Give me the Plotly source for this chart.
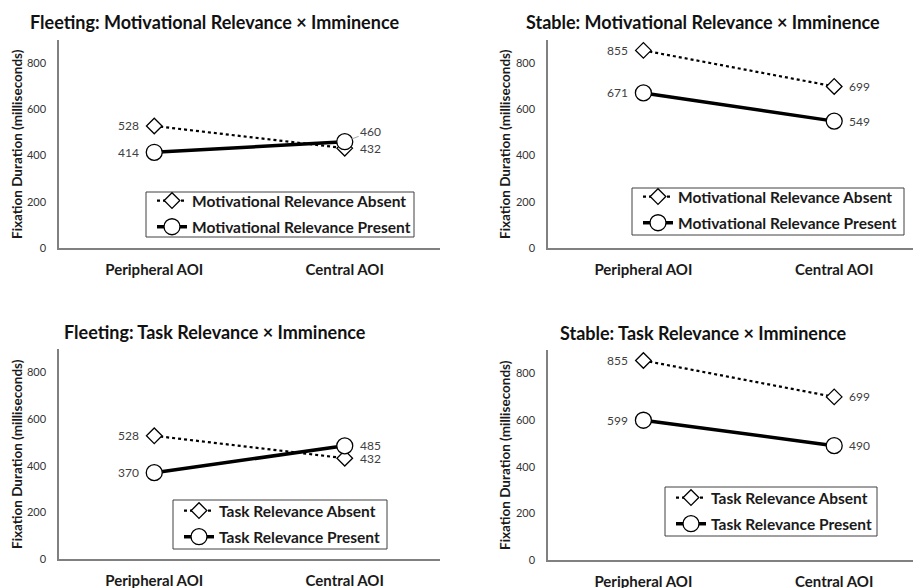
import plotly.graph_objects as go

categories = ["Peripheral AOI", "Central AOI"]

titles = [
    "Fleeting: Motivational Relevance × Imminence",
    "Stable: Motivational Relevance × Imminence",
    "Fleeting: Task Relevance × Imminence",
    "Stable: Task Relevance × Imminence",
]
absent_names = ["Motivational Relevance Absent", "Motivational Relevance Absent",
                "Task Relevance Absent", "Task Relevance Absent"]
present_names = ["Motivational Relevance Present", "Motivational Relevance Present",
                 "Task Relevance Present", "Task Relevance Present"]

fleeting_mot_absent = [528, 432]
fleeting_mot_present = [414, 460]
stable_mot_absent = [855, 699]
stable_mot_present = [671, 549]
fleeting_task_absent = [528, 432]
fleeting_task_present = [370, 485]
stable_task_absent = [855, 699]
stable_task_present = [599, 490]

absent_vals = [fleeting_mot_absent, stable_mot_absent, fleeting_task_absent, stable_task_absent]
present_vals = [fleeting_mot_present, stable_mot_present, fleeting_task_present, stable_task_present]

OFF = 8                      # page body margin
W, H = 921 - OFF, 588 - OFF  # figure size so it fills the window
FONT = "Lato"


def px(x):
    return (x - OFF) / W


def py(y):
    return 1 - (y - OFF) / H


# pixel layout (window coordinates) of each panel: (x0, x1, ytop, ybottom)
panels = [
    (59, 440, 40, 248),
    (548, 921, 40, 248),
    (59, 440, 349, 559),
    (548, 921, 350, 560),
]
xranges = [[-0.5, 1.5], [-0.5, 1.455], [-0.5, 1.5], [-0.5, 1.455]]
title_pos = [(214, 22), (703, 22), (215, 332), (703, 333)]
# legend frame boxes (x0, y0, x1, y1) and first-item centre
legend_box = [(146, 192, 414, 237), (632, 188, 904, 235),
              (173, 500, 387, 549), (665, 487, 877, 536)]
legend_first = [202, 198, 512, 499]
ytitle_x = [17, 505, 17, 505]

fig = go.Figure()

for i in range(4):
    x0, x1, yt, yb = panels[i]
    ax = "" if i == 0 else str(i + 1)
    leg = "legend" if i == 0 else f"legend{i + 1}"
    fig.add_trace(go.Scatter(
        x=categories, y=absent_vals[i], name=absent_names[i],
        mode="lines+markers", legendgroup=f"a{i}",
        line=dict(color="black", width=2.2, dash="dot"),
        marker=dict(symbol="diamond", size=12, color="white",
                    line=dict(color="black", width=1.3)),
        xaxis="x" + ax, yaxis="y" + ax, legend=leg, cliponaxis=False,
    ))
    fig.add_trace(go.Scatter(
        x=categories, y=present_vals[i], name=present_names[i],
        mode="lines+markers", legendgroup=f"p{i}",
        line=dict(color="black", width=3.5),
        marker=dict(symbol="circle", size=16, color="white",
                    line=dict(color="black", width=1.3)),
        xaxis="x" + ax, yaxis="y" + ax, legend=leg, cliponaxis=False,
    ))

    # data labels: left of peripheral points, right of central points
    for vals in (absent_vals[i], present_vals[i]):
        for j, v in enumerate(vals):
            if i == 0 and vals is present_vals[i] and j == 1:
                continue
            fig.add_annotation(
                text=str(v), x=categories[j], y=v,
                xref="x" + ax, yref="y" + ax, showarrow=False,
                xanchor="right" if j == 0 else "left", yanchor="middle",
                xshift=-13 if j == 0 else 13,
                font=dict(family=FONT, size=12, color="#404040"),
            )

    fig.layout["xaxis" + ax] = dict(
        domain=[px(x0), min(px(x1), 1.0)], range=xranges[i], anchor="y" + ax,
        automargin=False,
        showline=True, linecolor="#808080", linewidth=1.5,
        showgrid=False, zeroline=False, ticks="",
        tickfont=dict(family=FONT, size=15, color="#1a1a1a", weight="bold"),
        ticklabelstandoff=7,
    )
    fig.layout["yaxis" + ax] = dict(
        domain=[py(yb), py(yt)], range=[0, 900], anchor="x" + ax,
        automargin=False,
        tickvals=[0, 200, 400, 600, 800],
        showline=True, linecolor="#808080", linewidth=1.5,
        showgrid=False, zeroline=False, ticks="",
        tickfont=dict(family=FONT, size=11, color="#333333"),
        ticklabelstandoff=9,
    )
    bx0, by0, bx1, by1 = legend_box[i]
    fig.add_shape(
        type="rect", xref="paper", yref="paper",
        x0=px(bx0), x1=px(bx1), y0=py(by1), y1=py(by0),
        line=dict(color="#404040", width=1), fillcolor="white", layer="above",
    )
    fig.layout[leg] = dict(
        x=px(bx0 + 6), y=py(legend_first[i] - 18),
        xref="paper", yref="paper", xanchor="left", yanchor="top",
        bgcolor="rgba(0,0,0,0)", borderwidth=0,
        font=dict(family=FONT, size=15.5, color="#1a1a1a", weight="bold"),
        tracegroupgap=3, itemwidth=30,
    )
    fig.add_annotation(
        text=titles[i], x=px(title_pos[i][0]), y=py(title_pos[i][1]),
        xref="paper", yref="paper", showarrow=False,
        xanchor="center", yanchor="middle",
        font=dict(family=FONT, size=18, color="#111111", weight="bold"),
    )
    fig.add_annotation(
        text="Fixation Duration (milliseconds)",
        x=px(ytitle_x[i]), y=py((yt + yb) / 2),
        xref="paper", yref="paper", showarrow=False, textangle=-90,
        xanchor="center", yanchor="middle",
        font=dict(family=FONT, size=13.5, color="#1a1a1a", weight="bold"),
    )

# leader-lined label for the overlapping central point in panel 1
fig.add_annotation(
    text=str(fleeting_mot_present[1]), x=categories[1], y=fleeting_mot_present[1],
    xref="x", yref="y", showarrow=True, arrowhead=0, arrowcolor="#a6a6a6",
    arrowwidth=1, ax=26, ay=-10, standoff=7,
    font=dict(family=FONT, size=12, color="#404040"),
)

fig.update_layout(
    width=W, height=H, margin=dict(l=0, r=0, t=0, b=0, autoexpand=False),
    paper_bgcolor="white", plot_bgcolor="white", showlegend=True,
)

fig.write_html("out.html")
